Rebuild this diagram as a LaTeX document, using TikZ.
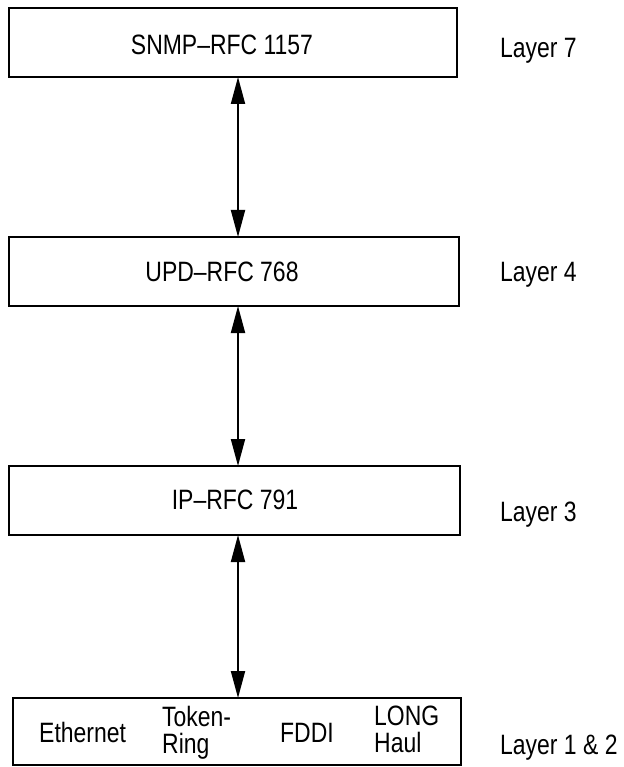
\documentclass[tikz,border=0pt]{standalone}
\usepackage{fontspec}
\setmainfont{Liberation Sans}[FakeStretch=0.82]
\usetikzlibrary{arrows.meta}
\begin{document}
\begin{tikzpicture}[x=1pt,y=-1pt,
  layerbox/.style={draw,line width=2.5pt,inner sep=0pt},
  txt/.style={anchor=base,inner sep=0pt,font=\fontsize{28}{32}\selectfont},
  lbl/.style={anchor=base west,inner sep=0pt,font=\fontsize{28}{32}\selectfont},
  item/.style={anchor=base west,inner sep=0pt,align=left,font=\fontsize{28}{27}\selectfont},
  dblarrow/.style={line width=1.9pt,{Triangle[length=27pt,width=14pt]}-{Triangle[length=27pt,width=14pt]}}]
\useasboundingbox (0,0) rectangle (623,767);
\draw[layerbox] (9,8) rectangle (457,77);
\draw[layerbox] (9,237) rectangle (459,306);
\draw[layerbox] (9,466) rectangle (460,535);
\draw[layerbox] (13,698) rectangle (461,765);
\coordinate (b1) at (238,77);
\coordinate (t2) at (238,237);
\coordinate (b2) at (238,306);
\coordinate (t3) at (238,466);
\coordinate (b3) at (238,535);
\coordinate (t4) at (238,698);
\node[txt] (snmp) at (222,55) {SNMP--RFC 1157};
\node[txt] (udp) at (222,281) {UPD--RFC 768};
\node[txt] (ip) at (235,509) {IP--RFC 791};
\node[item] (eth) at (39,742) {Ethernet};
\node[item,anchor=north west] (tok) at (162,706) {Token-\\Ring};
\node[item] (fddi) at (280,742) {FDDI};
\node[item,anchor=north west] (long) at (374,706) {LONG\\Haul};
\node[lbl] (l7) at (500,58) {Layer 7};
\node[lbl] (l4) at (500,281) {Layer 4};
\node[lbl] (l3) at (500,521) {Layer 3};
\node[lbl] (l12) at (500,754) {Layer 1 \& 2};
\draw[dblarrow] (b1) -- (t2);
\draw[dblarrow] (b2) -- (t3);
\draw[dblarrow] (b3) -- (t4);
\end{tikzpicture}
\end{document}
